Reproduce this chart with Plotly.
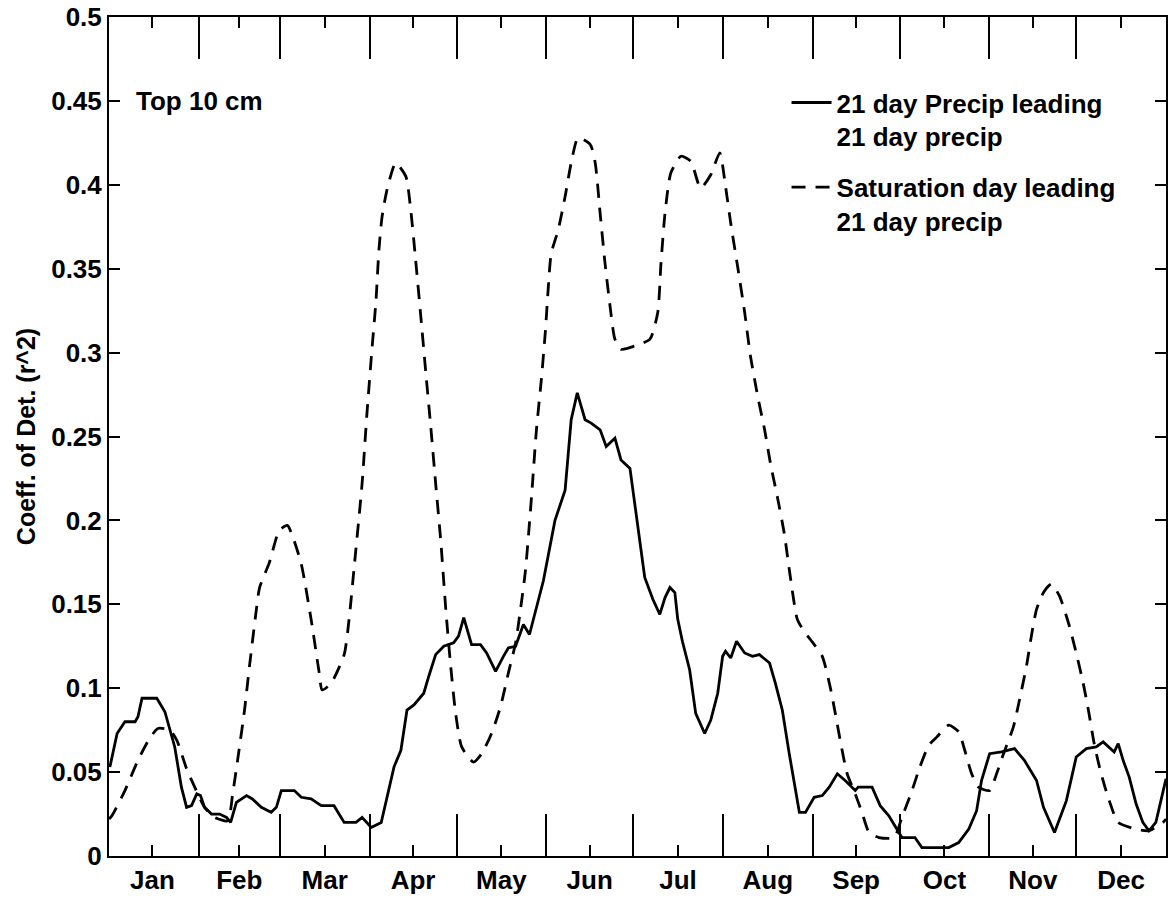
import plotly.graph_objects as go

# ---- data (day of year, coefficient of determination) ----
precip_days = [0.3, 2.8, 5.5, 9, 10, 11.4, 16.5, 19.3, 22.7, 25, 26.8, 28.5, 30.3, 31.6, 33, 35.4, 38.2, 40.6, 42,
               44, 47.5, 49.5, 52.6, 56, 57.8, 59.5, 64, 66.4, 69.8, 73.3, 77.7, 78.8, 81.2, 85.3, 87.4, 89, 90.5, 94,
               96.7, 98.4, 100.8, 102.9, 105.3, 108.7, 110.4, 112.8, 115.6, 119, 120.7, 122.5, 125.2, 128.3, 130.4,
               133.5, 136.2, 137.9, 140.4, 143.1, 145.2, 147.6, 150, 154, 157.5, 159.6, 161.7, 164.4, 166.5, 169.6,
               171.7, 174.7, 176.8, 179.9, 182, 185, 187.8, 190.2, 192, 193.7, 195.4, 196.4, 198, 200.5, 202.6, 205.7,
               207.8, 210.2, 211.9, 212.9, 214.7, 216.7, 219.5, 222.2, 224.6, 228.1, 230.1, 232.5, 234.9, 238.4, 240.5,
               243.5, 246.3, 248.7, 251.5, 254.2, 257.7, 258.7, 263.5, 266.3, 269.3, 273.8, 278.3, 280.7, 290, 293.4,
               296.9, 299.6, 301.3, 304.1, 308.2, 312.7, 316.1, 320.3, 322.7, 326.5, 330.6, 334, 337.5, 340.9, 343.3,
               345.4, 347.1, 348.5, 350.2, 352.3, 354.7, 357, 359.1, 361.5, 363.9, 365]
precip_r2 = [0.053, 0.073, 0.080, 0.080, 0.083, 0.094, 0.094, 0.086, 0.065, 0.041, 0.029, 0.030, 0.037, 0.036, 0.029,
             0.025, 0.025, 0.023, 0.020, 0.032, 0.036, 0.034, 0.029, 0.026, 0.029, 0.039, 0.039, 0.035, 0.034, 0.030,
             0.030, 0.027, 0.020, 0.020, 0.023, 0.020, 0.017, 0.020, 0.041, 0.053, 0.063, 0.087, 0.090, 0.097, 0.107,
             0.120, 0.125, 0.127, 0.131, 0.142, 0.126, 0.126, 0.121, 0.110, 0.119, 0.124, 0.125, 0.138, 0.132, 0.148,
             0.164, 0.200, 0.218, 0.260, 0.276, 0.260, 0.258, 0.254, 0.244, 0.249, 0.236, 0.231, 0.204, 0.166, 0.153,
             0.144, 0.154, 0.160, 0.157, 0.141, 0.128, 0.111, 0.085, 0.073, 0.081, 0.097, 0.119, 0.122, 0.118, 0.128,
             0.121, 0.119, 0.120, 0.115, 0.103, 0.087, 0.061, 0.026, 0.026, 0.035, 0.036, 0.041, 0.049, 0.045, 0.039,
             0.041, 0.041, 0.030, 0.024, 0.011, 0.011, 0.005, 0.005, 0.008, 0.016, 0.027, 0.045, 0.061, 0.062, 0.064,
             0.057, 0.045, 0.029, 0.014, 0.033, 0.059, 0.064, 0.065, 0.068, 0.065, 0.062, 0.067, 0.057, 0.047, 0.031,
             0.020, 0.015, 0.020, 0.039, 0.046]

sat_days = [0, 1, 5.5, 10, 14, 16.9, 21, 23.4, 26.8, 29.6, 33, 36.5, 41, 42.7, 44.4, 46.8, 48.5, 50.9, 52, 55.4, 58.8,
            61.6, 63.5, 66.4, 69.8, 72.6, 73.6, 76.7, 81.2, 82.9, 84.6, 87.4, 89, 90.8, 92.2, 93.2, 94.3, 96, 99,
            102.5, 104.2, 105.9, 107.7, 109.4, 111.1, 112.8, 114.6, 116.3, 118, 119.7, 121.8, 125.9, 128.7, 132.1,
            135.2, 137.9, 140.4, 142.1, 143.8, 145.9, 147.6, 149.3, 150.7, 151.7, 152.7, 155.1, 157.5, 159.6, 162,
            166.2, 167.9, 169.6, 171.3, 173, 174.7, 176.8, 181.6, 186.8, 189.5, 190.6, 192, 194, 197.5, 200.9, 204.3,
            207.8, 210.9, 212.9, 214.7, 217.1, 219.5, 221.5, 224, 226.4, 228.4, 230.8, 233.2, 235.3, 237.7, 240,
            242.2, 246.3, 249, 250.8, 252.5, 254.9, 257.7, 260, 262.5, 265.9, 271.1, 273.8, 277.3, 280, 283.1, 285.9,
            290, 293.4, 295.5, 297.9, 300.3, 304.1, 306.5, 308.9, 312.3, 314.4, 316.8, 318.5, 320.3, 322.7, 325.4,
            328.2, 331.3, 334, 336.4, 338.2, 340.2, 342.6, 345.4, 348.5, 354.7, 359.1, 364, 365]
sat_r2 = [0.022, 0.024, 0.039, 0.057, 0.070, 0.076, 0.075, 0.069, 0.052, 0.041, 0.029, 0.023, 0.021, 0.037, 0.057,
          0.087, 0.113, 0.147, 0.160, 0.175, 0.194, 0.197, 0.190, 0.174, 0.141, 0.109, 0.099, 0.103, 0.120, 0.141,
          0.171, 0.222, 0.262, 0.302, 0.331, 0.361, 0.381, 0.397, 0.413, 0.405, 0.385, 0.355, 0.321, 0.288, 0.256,
          0.222, 0.187, 0.147, 0.113, 0.085, 0.065, 0.056, 0.061, 0.073, 0.089, 0.109, 0.127, 0.147, 0.170, 0.214,
          0.254, 0.284, 0.313, 0.339, 0.359, 0.373, 0.393, 0.413, 0.428, 0.424, 0.413, 0.383, 0.353, 0.328, 0.308,
          0.302, 0.304, 0.308, 0.324, 0.353, 0.383, 0.407, 0.417, 0.414, 0.398, 0.406, 0.419, 0.399, 0.377, 0.351,
          0.324, 0.298, 0.274, 0.254, 0.234, 0.214, 0.192, 0.166, 0.141, 0.134, 0.129, 0.119, 0.101, 0.085, 0.069,
          0.049, 0.037, 0.026, 0.014, 0.011, 0.011, 0.023, 0.039, 0.053, 0.066, 0.071, 0.078, 0.074, 0.063, 0.049,
          0.041, 0.039, 0.049, 0.061, 0.077, 0.093, 0.113, 0.131, 0.147, 0.157, 0.162, 0.155, 0.139, 0.121, 0.103,
          0.087, 0.067, 0.049, 0.033, 0.020, 0.016, 0.015, 0.020, 0.022]

month_labels = ["Jan", "Feb", "Mar", "Apr", "May", "Jun", "Jul", "Aug", "Sep", "Oct", "Nov", "Dec"]
month_mid = [15, 45, 74.5, 105, 135.5, 166, 196.5, 227.5, 258, 288.5, 319, 349.5]
month_start = [0, 31, 59, 90, 120, 151, 181, 212, 243, 273, 304, 334, 365]
y_ticks = [0, 0.05, 0.1, 0.15, 0.2, 0.25, 0.3, 0.35, 0.4, 0.45, 0.5]
y_ticktext = ["0", "0.05", "0.1", "0.15", "0.2", "0.25", "0.3", "0.35", "0.4", "0.45", "0.5"]

FONT = "Liberation Sans, Arial, Helvetica, sans-serif"
BFONT = dict(family=FONT, size=26, color="black", weight="bold")

fig = go.Figure()
fig.add_trace(go.Scatter(x=precip_days, y=precip_r2, mode="lines",
                         name="21 day Precip leading<br>21 day precip",
                         legendgroup="a",
                         line=dict(color="black", width=2.8)))
fig.add_trace(go.Scatter(x=sat_days, y=sat_r2, mode="lines",
                         name="Saturation day leading<br>21 day precip",
                         legendgroup="b",
                         line=dict(color="black", width=2.8, dash="14px,10px", shape="spline", smoothing=0.6)))

fig.add_annotation(x=8.6, y=0.45, xref="x", yref="y", text="Top 10 cm", showarrow=False,
                   xanchor="left", yanchor="middle", font=BFONT)

fig.update_layout(
    width=1168, height=899,
    margin=dict(l=109, r=0, t=17, b=43),
    plot_bgcolor="white", paper_bgcolor="white",
    font=BFONT,
    showlegend=True,
    legend=dict(x=0.641, y=0.926, xanchor="left", yanchor="top", bgcolor="rgba(0,0,0,0)",
                font=BFONT, valign="top",
                tracegroupgap=14, itemwidth=40),
    xaxis=dict(range=[0, 365], tickmode="array", tickvals=month_mid, ticktext=month_labels,
               tickfont=BFONT,
               ticks="inside", ticklen=11, tickwidth=2, tickcolor="black",
               showline=True, linecolor="black", linewidth=2, mirror="ticks",
               showgrid=False, zeroline=False,
               minor=dict(tickmode="array", tickvals=month_start, ticks="inside", ticklen=42,
                          tickwidth=2, tickcolor="black", showgrid=False)),
    yaxis=dict(range=[0, 0.5], tickmode="array", tickvals=y_ticks, ticktext=y_ticktext,
               tickfont=BFONT,
               ticks="inside", ticklen=11, tickwidth=2, tickcolor="black",
               showline=True, linecolor="black", linewidth=2, mirror="ticks",
               showgrid=False, zeroline=False,
               title=dict(text="Coeff. of Det. (r^2)",
                          font=dict(family=FONT, size=25, color="black", weight="bold"), standoff=8)),
)

fig.write_html("out.html")
